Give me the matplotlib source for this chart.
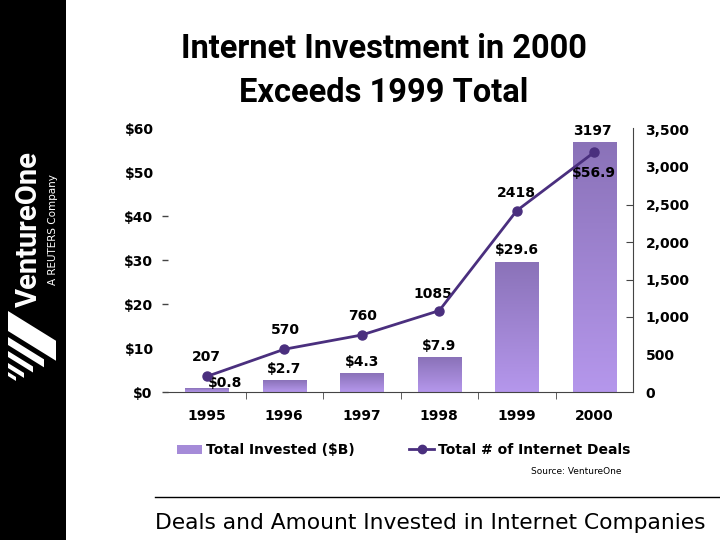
import matplotlib
matplotlib.use("Agg")
import matplotlib.pyplot as plt
import numpy as np
from matplotlib.lines import Line2D
from matplotlib.patches import Rectangle, Polygon
from matplotlib.colors import LinearSegmentedColormap

years = ["1995", "1996", "1997", "1998", "1999", "2000"]
invested = [0.8, 2.7, 4.3, 7.9, 29.6, 56.9]
deals = [207, 570, 760, 1085, 2418, 3197]
left_ticks = [0, 10, 20, 30, 40, 50, 60]
left_labels = ["$0", "$10", "$20", "$30", "$40", "$50", "$60"]
right_ticks = [0, 500, 1000, 1500, 2000, 2500, 3000, 3500]
right_labels = ["0", "500", "1,000", "1,500", "2,000", "2,500", "3,000", "3,500"]

# label offsets (pixels) - styling only
deal_off = [(0, 12), (1, 12), (1, 12), (-6, 10), (0, 11), (-2, 14)]
inv_off = [(18, -2), (0, 4), (0, 4), (0, 4), (0, 5), (0, -38)]

BAR_TOP = "#8a72b8"
BAR_BOT = "#b597ec"
LINE_C = "#4a2f7e"

fig = plt.figure(figsize=(7.2, 5.4), dpi=100)
fig.patch.set_facecolor("white")

def fpt(px, py):
    return (px / 720, 1 - py / 540)

# black side band
fig.add_artist(Rectangle((0, 0), 66 / 720, 1, transform=fig.transFigure,
                         facecolor="black", edgecolor="none", zorder=0))
fig.text(*fpt(29, 229), "VentureOne", rotation=90, color="white",
         fontsize=21, fontweight="bold", family=["Roboto", "DejaVu Sans"],
         ha="center", va="center")
fig.text(*fpt(53, 230), "A REUTERS Company", rotation=90, color="white",
         fontsize=7.5, family=["DejaVu Sans"], ha="center", va="center")
# slash logo stripes: (top y at left edge, thickness, right x)
stripes = [(311, 20, 56), (337, 8, 44), (351, 6, 33), (363, 5, 24), (372, 4, 16)]
slope = 0.62
for ytop, th, xr in stripes:
    xl = 8
    dy = (xr - xl) * slope
    pts = [(xl, ytop), (xr, ytop + dy), (xr, ytop + dy + th), (xl, ytop + th)]
    fig.add_artist(Polygon([fpt(px, py) for px, py in pts],
                           closed=True, transform=fig.transFigure,
                           facecolor="white", edgecolor="none"))

ax = fig.add_axes([168 / 720, 1 - 392 / 540, (633 - 168) / 720, (392 - 128) / 540])
x = np.arange(len(years))
bars = ax.bar(x, invested, width=0.56, color=BAR_BOT, edgecolor="none", zorder=2)
cmap = LinearSegmentedColormap.from_list("g", [BAR_BOT, BAR_TOP])
grad = np.linspace(0, 1, 256).reshape(-1, 1)
for b in bars:
    im = ax.imshow(grad, cmap=cmap, origin="lower", aspect="auto",
                   extent=[b.get_x(), b.get_x() + b.get_width(), 0, b.get_height()],
                   zorder=2.1)
    im.set_clip_path(b)
ax.set_xlim(-0.5, 5.5)
ax.set_ylim(0, 60)

ax.spines["top"].set_visible(False)
ax.spines["left"].set_visible(False)
ax.spines["right"].set_visible(False)
ax.spines["bottom"].set_color("#444444")

lbl_font = dict(fontsize=10, fontweight="bold", family="DejaVu Sans", color="black")

# left axis: ticks with dash marks (major) and without (minor)
lmaj = [v for v in left_ticks if v in (0, 20, 30, 40)]
lmin = [v for v in left_ticks if v not in lmaj]
ax.set_yticks(lmaj)
ax.set_yticklabels([l for v, l in zip(left_ticks, left_labels) if v in lmaj], **lbl_font)
ax.set_yticks(lmin, minor=True)
ax.set_yticklabels([l for v, l in zip(left_ticks, left_labels) if v in lmin], minor=True, **lbl_font)
ax.tick_params(axis="y", which="major", direction="out", length=4, width=1,
               color="#444444", pad=7)
ax.tick_params(axis="y", which="minor", length=0, pad=7 + 4 * 0.72)

ax.set_xticks(x)
ax.set_xticklabels(years, **lbl_font)
ax.tick_params(axis="x", which="major", length=0, pad=12)
ax.set_xticks(np.arange(0.5, 5.0, 1.0), minor=True)
ax.tick_params(axis="x", which="minor", direction="out", length=5, color="#444444")

ax2 = ax.twinx()
ax2.set_ylim(0, 3520)
ax2.plot(x, deals, color=LINE_C, lw=2, marker="o", ms=6.5, zorder=5)
for s in ["top", "left", "bottom"]:
    ax2.spines[s].set_visible(False)
ax2.spines["right"].set_color("#444444")
rmaj = [v for v in right_ticks if v in (1000, 1500, 2000, 2500)]
rmin = [v for v in right_ticks if v not in rmaj]
ax2.set_yticks(rmaj)
ax2.set_yticklabels([l for v, l in zip(right_ticks, right_labels) if v in rmaj], **lbl_font)
ax2.set_yticks(rmin, minor=True)
ax2.set_yticklabels([l for v, l in zip(right_ticks, right_labels) if v in rmin], minor=True, **lbl_font)
ax2.tick_params(axis="y", which="major", direction="in", length=5, color="#444444", pad=9)
ax2.tick_params(axis="y", which="minor", length=0, pad=9)

for xi, d, off in zip(x, deals, deal_off):
    ax2.annotate(str(d), (xi, d), xytext=off, textcoords="offset pixels",
                 ha="center", va="bottom", **lbl_font)
for xi, v, off in zip(x, invested, inv_off):
    ax.annotate(f"${v}", (xi, v), xytext=off, textcoords="offset pixels",
                ha="center", va="bottom", zorder=6, **lbl_font)

handles = [Rectangle((0, 0), 1, 1, facecolor="#a58bd8", edgecolor="none"),
           Line2D([0], [0], color=LINE_C, lw=2, marker="o", ms=6)]
ax.legend(handles, ["Total Invested ($B)", "Total # of Internet Deals"],
          loc="center", bbox_to_anchor=(404 / 720, 1 - 450 / 540),
          bbox_transform=fig.transFigure, ncol=2, frameon=False,
          prop=dict(size=10, weight="bold", family="DejaVu Sans"),
          handlelength=1.8, handleheight=0.6, handletextpad=0.3, columnspacing=3.9)

fig.text(*fpt(576, 472), "Source: VentureOne", fontsize=6.5,
         family="DejaVu Sans", ha="center", va="center")

fig.text(*fpt(384, 71), "Internet Investment in 2000\nExceeds 1999 Total",
         ha="center", va="center", fontsize=23.5, fontweight="bold",
         family=["Roboto", "DejaVu Sans"], linespacing=1.45)

fig.add_artist(Line2D([155 / 720, 1.0], [1 - 497 / 540, 1 - 497 / 540],
                      transform=fig.transFigure, color="black", lw=1))
fig.text(*fpt(155, 523), "Deals and Amount Invested in Internet Companies",
         ha="left", va="center", fontsize=15.7, family="DejaVu Sans", color="black")

fig.savefig("out.png", dpi=100)
